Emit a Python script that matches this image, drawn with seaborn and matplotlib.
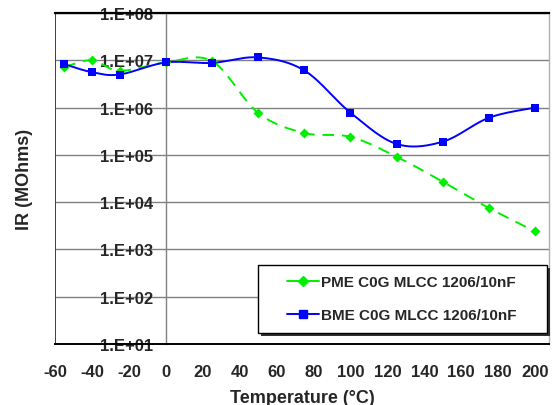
import numpy as np
import pandas as pd
import matplotlib
matplotlib.use("Agg")
import matplotlib.pyplot as plt
import seaborn as sns
from matplotlib.lines import Line2D
from matplotlib.patches import Rectangle
from matplotlib.ticker import FixedLocator, FuncFormatter, NullLocator

# ---- data ----
temperature = [-55, -40, -25, 0, 25, 50, 75, 100, 125, 150, 175, 200]
pme_ir = [7.2e6, 1.0e7, 6.0e6, 9.0e6, 9.6e6, 7.7e5, 2.9e5, 2.4e5, 9.1e4, 2.7e4, 7.5e3, 2.4e3]
bme_ir = [8.3e6, 5.6e6, 5.0e6, 9.0e6, 8.8e6, 1.15e7, 6.1e6, 7.8e5, 1.7e5, 1.9e5, 6.1e5, 1.0e6]
pme_label = "PME C0G MLCC 1206/10nF"
bme_label = "BME C0G MLCC 1206/10nF"
x_ticks = list(range(-60, 201, 20))
y_ticks = [1e1, 1e2, 1e3, 1e4, 1e5, 1e6, 1e7, 1e8]
x_label = "Temperature (°C)"
y_label = "IR (MOhms)"


def smooth(x, y, n=30):
    """Excel-like smoothed line (Bezier / Catmull-Rom) in (x, log y) space."""
    P = np.column_stack([np.asarray(x, float), np.log10(np.asarray(y, float))])
    E = np.vstack([P[0], P, P[-1]])
    segs = []
    for i in range(len(P) - 1):
        p0, p1, p2, p3 = E[i], E[i + 1], E[i + 2], E[i + 3]
        c1 = p1 + (p2 - p0) / 6.0
        c2 = p2 - (p3 - p1) / 6.0
        t = np.linspace(0, 1, n, endpoint=(i == len(P) - 2))[:, None]
        segs.append((1 - t) ** 3 * p1 + 3 * (1 - t) ** 2 * t * c1
                    + 3 * (1 - t) * t ** 2 * c2 + t ** 3 * p2)
    S = np.vstack(segs)
    return pd.DataFrame({"T": S[:, 0], "IR": 10 ** S[:, 1]})


sns.set_theme(style="white")
plt.rcParams["font.family"] = ["Liberation Sans", "DejaVu Sans"]
plt.rcParams["font.weight"] = "bold"
plt.rcParams["axes.unicode_minus"] = False

fig = plt.figure(figsize=(5.52, 4.06), dpi=100)
ax = fig.add_axes([55 / 552, 1 - 345 / 406, (549 - 55) / 552, (345 - 14) / 406])
ax.set_yscale("log")

green = "#00ee00"
blue = "#0000ff"

pme_s = smooth(temperature, pme_ir)
bme_s = smooth(temperature, bme_ir)
sns.lineplot(data=pme_s, x="T", y="IR", sort=False, estimator=None, ax=ax,
             color=green, lw=1.4, linestyle=(0, (6, 4)), zorder=3)
sns.lineplot(data=bme_s, x="T", y="IR", sort=False, estimator=None, ax=ax,
             color=blue, lw=1.4, zorder=4)
sns.scatterplot(x=temperature, y=pme_ir, ax=ax, marker="D", s=26,
                color=green, edgecolor=green, linewidth=0, zorder=5)
sns.scatterplot(x=temperature, y=bme_ir, ax=ax, marker="s", s=36,
                color=blue, edgecolor=blue, linewidth=0, zorder=6)

ax.set_xlim(-60, 207.5)
ax.set_ylim(1e1, 1e8)

# axes styling
ax.yaxis.set_major_locator(FixedLocator(y_ticks))
ax.yaxis.set_minor_locator(NullLocator())
ax.yaxis.set_major_formatter(FuncFormatter(lambda v, p: f"1.E+{int(round(np.log10(v))):02d}"))
ax.set_xticks(x_ticks)
ax.grid(False)
ax.yaxis.grid(True, color="#808080", lw=1.0)
ax.set_axisbelow(True)

ax.spines["left"].set_position(("data", 0))
ax.spines["left"].set_color("#808080")
ax.spines["left"].set_linewidth(1.0)
ax.spines["top"].set_color("black")
ax.spines["top"].set_linewidth(1.6)
ax.spines["bottom"].set_color("black")
ax.spines["bottom"].set_linewidth(1.4)
ax.spines["right"].set_color("#b0b0b0")
ax.spines["right"].set_linewidth(1.0)
ax.axvline(-60, color="#404040", lw=1.4, zorder=1)

ax.tick_params(axis="y", length=0, pad=9, labelsize=12)
ax.tick_params(axis="x", direction="out", length=3.5, width=1, color="black",
               pad=11, labelsize=12)
for lab in ax.get_xticklabels() + ax.get_yticklabels():
    lab.set_fontweight("bold")

ax.set_xlabel(x_label, fontsize=13, fontweight="bold", labelpad=7)
ax.set_ylabel(y_label, fontsize=13, fontweight="bold")
ax.yaxis.set_label_coords((33 - 55) / 494, 0.5)

# legend box with shadow
bx0, by0 = (258 - 55) / 494, (345 - 334) / 331
bw, bh = (547 - 258) / 494, (334 - 266) / 331
ax.add_patch(Rectangle((bx0 + 3 / 494, by0 - 3 / 331), bw, bh, transform=ax.transAxes,
                       facecolor="#303030", edgecolor="none", zorder=8, clip_on=False))
ax.add_patch(Rectangle((bx0, by0), bw, bh, transform=ax.transAxes,
                       facecolor="white", edgecolor="black", lw=1.0, zorder=9, clip_on=False))
handles = [Line2D([], [], color=green, lw=1.4, marker="D", markersize=5),
           Line2D([], [], color=blue, lw=1.4, marker="s", markersize=6)]
leg = ax.legend(handles, [pme_label, bme_label], loc="center left",
                bbox_to_anchor=((287 - 55) / 494, (345 - 299.5) / 331),
                frameon=False, borderpad=0, borderaxespad=0,
                handlelength=2.1, handletextpad=0.1, labelspacing=1.25,
                prop={"size": 11, "weight": "bold"})
leg.set_zorder(10)

fig.savefig("out.png", dpi=100)
